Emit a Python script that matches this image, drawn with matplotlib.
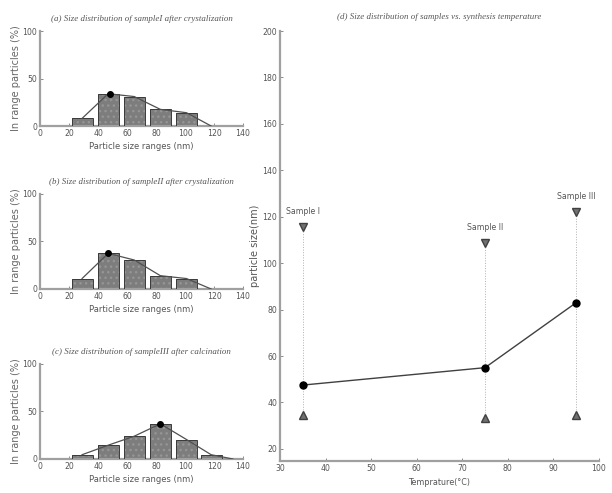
import numpy as np
import matplotlib.pyplot as plt

# histogram panels (a)-(c)
centers_ab = [29, 47, 65, 83, 101]
centers_c = [29, 47, 65, 83, 101, 118]
heights_a = [8, 34, 31, 17.5, 14]
heights_b = [11, 37.5, 30.5, 14, 11]
heights_c = [4.5, 14.5, 24, 37, 20.5, 4.5]
peak_a = (48, 34)
peak_b = (47, 37.5)
peak_c = (83, 37)
end_ab = 118
end_c = 133
titles = ['(a) Size distribution of sampleI after crystalization',
          '(b) Size distribution of sampleII after crystalization',
          '(c) Size distribution of sampleIII after calcination']

# panel (d)
temps = [35, 75, 95]
size_mean = [47.5, 55, 83]
size_min = [34.5, 33.5, 34.5]
size_max = [115.5, 108.5, 122]
sample_names = ['Sample I', 'Sample II', 'Sample III']

txt = '#555555'
spine_c = '#a0a0a0'
tickfont = ['Liberation Sans Narrow', 'DejaVu Sans Condensed', 'DejaVu Sans']
titlefont = ['Liberation Serif', 'DejaVu Serif']

fig = plt.figure(figsize=(6.12, 4.93), dpi=100)


def style(ax):
    for s in ['top', 'right']:
        ax.spines[s].set_visible(False)
    for s in ['left', 'bottom']:
        ax.spines[s].set_color(spine_c)
        ax.spines[s].set_linewidth(1.6)
    ax.tick_params(direction='in', length=2.5, width=0.6, color='#777777',
                   labelcolor=txt, labelsize=5.6, pad=2)
    for lab in ax.get_xticklabels() + ax.get_yticklabels():
        lab.set_family(tickfont)


hist_boxes = [[0.0654, 0.7444, 0.3317, 0.1927],
              [0.0654, 0.4138, 0.3317, 0.1927],
              [0.0654, 0.0690, 0.3317, 0.1927]]
hist_sets = [(centers_ab, heights_a, peak_a, end_ab),
             (centers_ab, heights_b, peak_b, end_ab),
             (centers_c, heights_c, peak_c, end_c)]

for box, (cx, hy, peak, end), title in zip(hist_boxes, hist_sets, titles):
    ax = fig.add_axes(box)
    ax.bar(cx, hy, width=14.5, color='#7d7d7d', edgecolor='#959595',
           hatch='...', linewidth=0, zorder=2)
    ax.bar(cx, hy, width=14.5, fill=False, edgecolor='#3a3a3a',
           linewidth=0.7, zorder=3)
    lx = list(cx) + [end]
    ly = list(hy) + [0]
    ax.plot(lx, ly, color='#505050', lw=0.9, zorder=4)
    ax.plot(*peak, 'o', color='black', ms=4, zorder=5)
    ax.set_xlim(0, 140)
    ax.set_ylim(0, 100)
    ax.set_xticks(np.arange(0, 141, 20))
    ax.set_yticks([0, 50, 100])
    style(ax)
    ax.set_xlabel('Particle size ranges (nm)', fontsize=6, color=txt,
                  labelpad=3, family=tickfont)
    ax.set_ylabel('In range particles (%)', fontsize=7, color='#666666',
                  labelpad=1, family='DejaVu Sans')
    ax.set_title(title, fontsize=6.4, color=txt, style='italic',
                 family=titlefont, pad=7)

# panel (d)
ax = fig.add_axes([0.4575, 0.0649, 0.5212, 0.8722])
for t, lo, hi in zip(temps, size_min, size_max):
    ax.plot([t, t], [lo, hi], ':', color='#b0b0b0', lw=0.7, zorder=1)
ax.plot(temps, size_mean, '-', color='#404040', lw=1.0, zorder=2)
ax.plot(temps, size_mean, 'o', color='black', ms=5, zorder=3)
ax.plot(temps, size_min, '^', color='#707070', mec='#404040', ms=6,
        zorder=3)
ax.plot(temps, size_max, 'v', color='#707070', mec='#404040', ms=6,
        zorder=3)
for t, hi, name in zip(temps, size_max, sample_names):
    ax.text(t, hi + 5, name, ha='center', va='bottom', fontsize=5.6,
            color=txt, family=tickfont)
ax.set_xlim(30, 100)
ax.set_ylim(14.8, 200)
ax.set_xticks(np.arange(30, 101, 10))
ax.set_yticks(np.arange(20, 201, 20))
style(ax)
ax.set_xlabel('Temprature(°C)', fontsize=5.8, color=txt, labelpad=4,
              family=tickfont)
ax.set_ylabel('particle size(nm)', fontsize=7, color=txt, labelpad=2)
ax.set_title('(d) Size distribution of samples vs. synthesis temperature',
             fontsize=6.4, color=txt, style='italic', family=titlefont,
             pad=9)

fig.savefig('out.png', dpi=100)
